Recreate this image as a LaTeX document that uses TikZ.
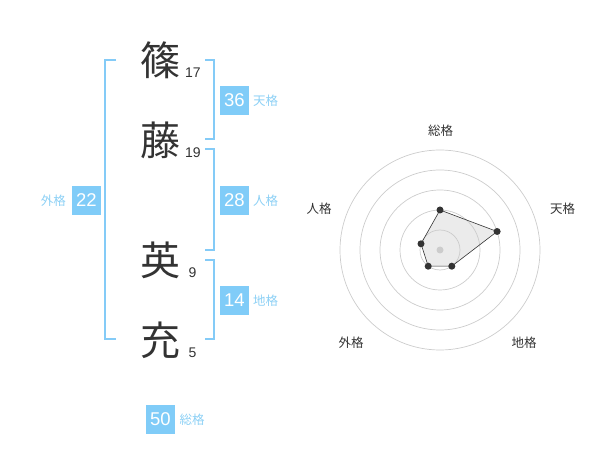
\documentclass[tikz,border=0pt]{standalone}
\usepackage{fontspec}
\setmainfont{Liberation Sans}
\newfontfamily\cjk{Noto Sans CJK JP}
\definecolor{boxblue}{HTML}{80CCF8}
\definecolor{brblue}{HTML}{84CBF7}
\definecolor{lblblue}{HTML}{8CD0F5}
\definecolor{ink}{HTML}{333333}
\definecolor{ringgray}{HTML}{CCCCCC}
\definecolor{polyfill}{HTML}{E6E6E6}
\tikzset{
  kanji/.style={font=\cjk\fontsize{40}{40}\selectfont, text=ink, inner sep=0pt, anchor=center},
  strokes/.style={font=\fontsize{14}{14}\selectfont, text=ink, inner sep=0pt, anchor=base west},
  numbox/.style={fill=boxblue, text=white, minimum size=29pt, inner sep=0pt, font=\fontsize{18.5}{18}\selectfont},
  kaku/.style={font=\cjk\fontsize{12.5}{13}\selectfont, text=lblblue, inner sep=0pt},
  brk/.style={draw=brblue, line width=2pt},
  ring/.style={draw=ringgray, line width=0.7pt},
  axlbl/.style={font=\cjk\fontsize{12.5}{13}\selectfont, text=ink, inner sep=0pt},
  dot/.style={circle, fill=ink, inner sep=0pt, minimum size=7pt},
}
\begin{document}
\begin{tikzpicture}[x=1pt,y=-1pt]
\useasboundingbox (0,0) rectangle (600,470);
% characters
\node[kanji] (c1) at (160,60) {篠};
\node[kanji] (c2) at (160,140.5) {藤};
\node[kanji] (c3) at (160,260) {英};
\node[kanji] (c4) at (160,340) {充};
\node[strokes] (s1) at (185,77.5) {17};
\node[strokes] (s2) at (185,157.5) {19};
\node[strokes] (s3) at (188.5,277.5) {9};
\node[strokes] (s4) at (188.5,357.5) {5};
% brackets
\draw[brk] (116,60) -- (105,60) -- (105,339.5) -- (116,339.5);
\draw[brk] (205,60) -- (214,60) -- (214,139.5) -- (205,139.5);
\draw[brk] (205,149.5) -- (214,149.5) -- (214,250) -- (205,250);
\draw[brk] (205,260) -- (214,260) -- (214,339.5) -- (205,339.5);
% boxes
\node[numbox] (ten) at (234.5,100.5) {36};
\node[kaku, anchor=west] (tenl) at (253,100.5) {天格};
\node[numbox] (jin) at (234.5,200.5) {28};
\node[kaku, anchor=west] (jinl) at (253,200.5) {人格};
\node[numbox] (chi) at (234.5,300.5) {14};
\node[kaku, anchor=west] (chil) at (253,300.5) {地格};
\node[numbox] (gai) at (86.5,200.5) {22};
\node[kaku, anchor=east] (gail) at (66,200.5) {外格};
\node[numbox] (sou) at (160.5,419.5) {50};
\node[kaku, anchor=west] (soul) at (179.5,419.5) {総格};
% radar
\coordinate (ctr) at (440,250);
\coordinate (p1) at (440,210);
\coordinate (p2) at (497.1,231.5);
\coordinate (p3) at (451.8,266.2);
\coordinate (p4) at (428.2,266.2);
\coordinate (p5) at (421.0,243.8);
\fill[polyfill, opacity=0.8] (p1) -- (p2) -- (p3) -- (p4) -- (p5) -- cycle;
\foreach \r in {20,40,60,80,100} \draw[ring] (ctr) circle[radius=\r];
\fill[ringgray] (ctr) circle[radius=3.5];
\draw[ink, line width=0.6pt] (p1) -- (p2) -- (p3) -- (p4) -- (p5) -- cycle;
\foreach \p in {p1,p2,p3,p4,p5} \node[dot] at (\p) {};
\node[axlbl] (a1) at (440.5,130.5) {総格};
\node[axlbl] (a2) at (562.5,209) {天格};
\node[axlbl] (a3) at (524,342.5) {地格};
\node[axlbl] (a4) at (351,342.5) {外格};
\node[axlbl] (a5) at (319,209) {人格};
\end{tikzpicture}
\end{document}
